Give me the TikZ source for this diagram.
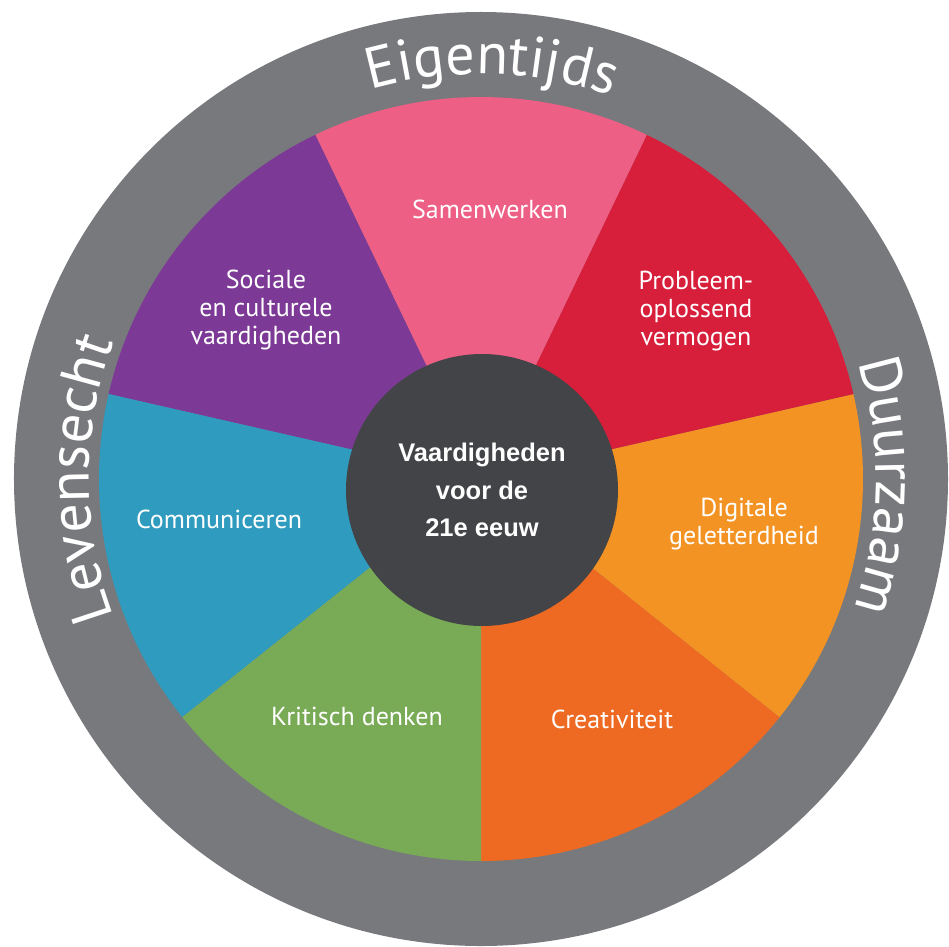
\documentclass[tikz,border=0pt]{standalone}
\usepackage{fontspec}
\setmainfont{PT Sans}
\newfontfamily\hubfont{Liberation Sans}
\usetikzlibrary{decorations.text}

\definecolor{ringgray}{HTML}{78797D}
\definecolor{hubgray}{HTML}{434447}
\definecolor{samenpink}{HTML}{EE5F85}
\definecolor{probred}{HTML}{D71E3A}
\definecolor{digiorange}{HTML}{F39323}
\definecolor{creaorange}{HTML}{EE6922}
\definecolor{kritgreen}{HTML}{79AB56}
\definecolor{commblue}{HTML}{2F9CBF}
\definecolor{socpurple}{HTML}{7C3A96}

\newcommand\ringtext{\color{white}\fontsize{58}{60}\selectfont}

\begin{document}
\begin{tikzpicture}[x=1pt,y=1pt]
    \tikzstyle{skill} = [text=white, align=center, font=\fontsize{26}{28}\selectfont]
    \tikzstyle{hub} = [circle, fill=hubgray, minimum size=272pt, inner sep=0pt,
      text=white, align=center, font=\hubfont\bfseries\fontsize{25.5}{37.5}\selectfont]
    \tikzstyle{ringlabel} = [decorate, decoration={text along path, text align=center}]
    \useasboundingbox (-481,-467) rectangle (468,479);
    \fill[ringgray] (0,0) circle (467);
    \fill[creaorange] (0,0) -- (-90:382) arc[start angle=-90, end angle=-38.571, radius=382] -- cycle;
    \fill[digiorange] (0,0) -- (-38.571:382) arc[start angle=-38.571, end angle=12.857, radius=382] -- cycle;
    \fill[probred] (0,0) -- (12.857:382) arc[start angle=12.857, end angle=64.286, radius=382] -- cycle;
    \fill[samenpink] (0,0) -- (64.286:382) arc[start angle=64.286, end angle=115.714, radius=382] -- cycle;
    \fill[socpurple] (0,0) -- (115.714:382) arc[start angle=115.714, end angle=167.143, radius=382] -- cycle;
    \fill[commblue] (0,0) -- (167.143:382) arc[start angle=167.143, end angle=218.571, radius=382] -- cycle;
    \fill[kritgreen] (0,0) -- (218.571:382) arc[start angle=218.571, end angle=270, radius=382] -- cycle;
    \node[hub] (center) at (1,-11) {Vaardigheden\\voor de\\21e eeuw};
    \node[skill, anchor=base] (samen) at (9,261) {Samenwerken};
    \node[skill] (sociaal) at (-215,169) {Sociale\\en culturele\\vaardigheden};
    \node[skill] (probleem) at (215,168) {Probleem-\\oplossend\\vermogen};
    \node[skill] (digitaal) at (263,-45) {Digitale\\geletterdheid};
    \node[skill, anchor=base] (creatief) at (131,-249) {Creativiteit};
    \node[skill, anchor=base] (kritisch) at (-124,-246) {Kritisch denken};
    \node[skill, anchor=base] (communicatie) at (-262,-49) {Communiceren};
    \path[ringlabel, decoration={text={|\ringtext|Eigentijds}}]
      (158.5:405) arc[start angle=158.5, end angle=18.5, radius=405];
    \path[ringlabel, decoration={text={|\ringtext|Duurzaam}}]
      (69:395) arc[start angle=69, end angle=-71, radius=395];
    \path[ringlabel, decoration={text={|\ringtext|Levensecht}}]
      (250:392) arc[start angle=250, end angle=110, radius=392];
\end{tikzpicture}
\end{document}
